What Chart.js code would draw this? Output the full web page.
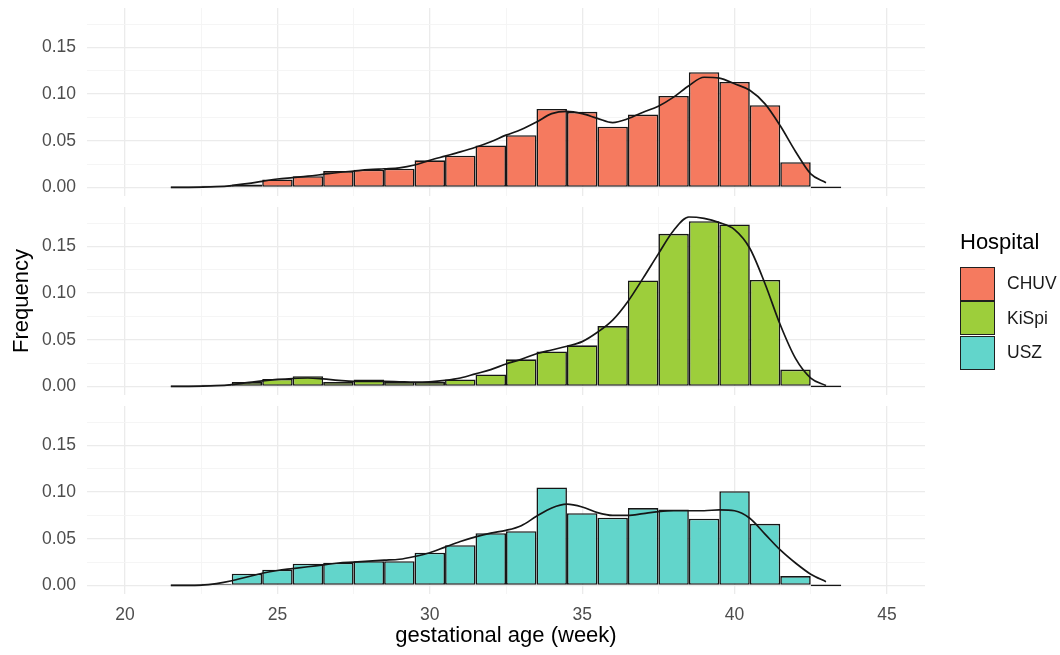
<!DOCTYPE html>
<html>
<head>
<meta charset="utf-8">
<title>Gestational age by hospital</title>
<script src="https://cdn.jsdelivr.net/npm/chart.js@4/dist/chart.umd.min.js"></script>
<style>
  html, body { margin: 0; padding: 0; background: #fff; }
  #wrap { position: relative; width: 1060px; height: 655px; overflow: hidden;
          font-family: "Liberation Sans", Arial, sans-serif; }
  #wrap canvas { position: absolute; left: 0; }
  .legend-title { position: absolute; left: 960px; top: 231px; font-size: 22px; line-height: 22px; color: #000; }
  .key { position: absolute; left: 960px; width: 35px; height: 34px; box-sizing: border-box; border: 1.6px solid #1f1f1f; }
  .lab { position: absolute; left: 1007px; font-size: 17.5px; line-height: 20px; color: #1a1a1a; }
</style>
</head>
<body>
<div id="wrap">
  <canvas id="pCHUV" width="1060" height="236" style="top:-16px"></canvas>
  <canvas id="pKiSpi" width="1060" height="236" style="top:183px"></canvas>
  <canvas id="pUSZ" width="1060" height="273" style="top:382px"></canvas>
  <div id="legend"></div>
</div>
<script>
// histogram bins (1-week wide, centred on whole weeks)
const weeks = [22, 23, 24, 25, 26, 27, 28, 29, 30, 31, 32, 33, 34, 35, 36, 37, 38, 39, 40, 41, 42, 43];
const chuvFreq  = [0, 0.0005, 0.003, 0.0085, 0.012, 0.0175, 0.019, 0.020, 0.029, 0.034, 0.045, 0.056, 0.084, 0.081, 0.065, 0.078, 0.098, 0.1235, 0.113, 0.088, 0.027, 0];
const kispiFreq = [0, 0.0005, 0.0046, 0.008, 0.011, 0.0046, 0.0075, 0.0046, 0.0046, 0.0075, 0.0128, 0.029, 0.0375, 0.044, 0.0646, 0.1135, 0.1635, 0.177, 0.1735, 0.114, 0.018, 0];
const uszFreq   = [0, 0.001, 0.0125, 0.0168, 0.0232, 0.0243, 0.026, 0.026, 0.035, 0.043, 0.056, 0.058, 0.105, 0.0774, 0.0725, 0.0828, 0.0814, 0.0714, 0.101, 0.066, 0.010, 0];

// kernel density curves, sampled every half week
const densWeeks = [21.5, 22, 22.5, 23, 23.5, 24, 24.5, 25, 25.5, 26, 26.5, 27, 27.5, 28, 28.5, 29, 29.5, 30, 30.5, 31, 31.5, 32,
                   32.5, 33, 33.5, 34, 34.5, 35, 35.5, 36, 36.5, 37, 37.5, 38, 38.5, 39, 39.5, 40, 40.5, 41, 41.5, 42, 42.5, 43];
const chuvDens  = [0, 0.0001, 0.0003, 0.0008, 0.002, 0.004, 0.0065, 0.009, 0.0105, 0.012, 0.014, 0.016, 0.0175, 0.019, 0.020, 0.021, 0.024, 0.029, 0.0335, 0.038, 0.043, 0.049,
                   0.056, 0.062, 0.070, 0.079, 0.0815, 0.079, 0.074, 0.0695, 0.0735, 0.0805, 0.087, 0.0967, 0.109, 0.118, 0.117, 0.111, 0.104, 0.0895, 0.066, 0.0385, 0.0145, 0.005];
const kispiDens = [0, 0.0001, 0.0003, 0.0008, 0.002, 0.004, 0.006, 0.0075, 0.0085, 0.009, 0.008, 0.0065, 0.0055, 0.0055, 0.0055, 0.005, 0.0045, 0.005, 0.0065, 0.009, 0.0135, 0.018,
                   0.024, 0.029, 0.035, 0.039, 0.043, 0.048, 0.058, 0.071, 0.091, 0.116, 0.142, 0.167, 0.1815, 0.180, 0.1755, 0.168, 0.148, 0.110, 0.066, 0.030, 0.009, 0.001];
const uszDens   = [0, 0, 0.0003, 0.002, 0.005, 0.009, 0.013, 0.016, 0.018, 0.020, 0.022, 0.024, 0.025, 0.026, 0.027, 0.028, 0.031, 0.035, 0.041, 0.047, 0.052, 0.056,
                   0.059, 0.064, 0.074, 0.083, 0.087, 0.084, 0.078, 0.075, 0.075, 0.077, 0.079, 0.080, 0.080, 0.080, 0.081, 0.080, 0.072, 0.055, 0.038, 0.024, 0.012, 0.004];

// axis ticks
const xTickWeeks  = [20, 25, 30, 35, 40, 45];
const xMinorWeeks = [22.5, 27.5, 32.5, 37.5, 42.5];
const yTickValues = [0, 0.05, 0.10, 0.15];
const yTickLabels = ['0.00', '0.05', '0.10', '0.15'];
const yMinorValues = [0.025, 0.075, 0.125, 0.175];

const hospitals = ['CHUV', 'KiSpi', 'USZ'];
const hospitalColors = ['#F57A5F', '#9DCE3B', '#62D5CB'];

const X_MIN = 18.75, X_MAX = 46.25;
const Y_MIN = -0.0092, Y_MAX = 0.1922;
const GRID_MAJOR = '#EBEBEB';
const GRID_MINOR = '#F4F4F4';
const INK = '#161616';
const FONT = '"Liberation Sans", Arial, sans-serif';
const PAD = 24;

const near = (list, v) => list.findIndex(t => Math.abs(t - v) < 1e-9);

function buildPanel(id, freq, dens, color, opt) {
  return new Chart(document.getElementById(id), {
    type: 'bar',
    data: {
      datasets: [
        {
          type: 'line',
          data: densWeeks.map((w, i) => ({ x: w, y: dens[i] })),
          borderColor: INK,
          borderWidth: 1.7,
          pointRadius: 0,
          cubicInterpolationMode: 'monotone',
          fill: false,
          order: 0
        },
        {
          type: 'bar',
          data: weeks.map((w, i) => ({ x: w, y: freq[i] })),
          backgroundColor: color,
          borderColor: INK,
          borderWidth: 1.6,
          borderSkipped: false,
          inflateAmount: 0,
          barPercentage: 1,
          categoryPercentage: 1,
          minBarLength: 1.6,
          order: 1
        }
      ]
    },
    options: {
      responsive: false,
      animation: false,
      devicePixelRatio: 1,
      events: [],
      layout: { padding: { top: PAD, bottom: opt.bottomPad, left: 0, right: 135 } },
      plugins: { legend: { display: false }, tooltip: { enabled: false } },
      scales: {
        x: {
          type: 'linear',
          min: X_MIN,
          max: X_MAX,
          offset: false,
          afterBuildTicks: ax => {
            ax.ticks = xTickWeeks.concat(xMinorWeeks).sort((a, b) => a - b).map(v => ({ value: v }));
          },
          afterFit: ax => { ax.height = opt.xHeight; },
          grid: {
            offset: false,
            drawTicks: false,
            color: c => near(xTickWeeks, c.tick.value) >= 0 ? GRID_MAJOR : GRID_MINOR,
            lineWidth: c => near(xTickWeeks, c.tick.value) >= 0 ? 1.3 : 0.9
          },
          border: { display: false },
          ticks: {
            display: opt.showX,
            padding: 11,
            autoSkip: false,
            maxRotation: 0,
            color: '#4D4D4D',
            font: { family: FONT, size: 17.5 },
            callback: v => { const i = near(xTickWeeks, v); return i >= 0 ? String(xTickWeeks[i]) : ''; }
          },
          title: {
            display: opt.showX,
            text: 'gestational age (week)',
            color: '#000',
            font: { family: FONT, size: 22 },
            padding: { top: 0, bottom: 6 }
          }
        },
        y: {
          min: Y_MIN,
          max: Y_MAX,
          afterBuildTicks: ax => {
            ax.ticks = yTickValues.concat(yMinorValues).sort((a, b) => a - b).map(v => ({ value: v }));
          },
          afterFit: ax => { ax.width = 87; },
          grid: {
            drawTicks: false,
            color: c => near(yTickValues, c.tick.value) >= 0 ? GRID_MAJOR : GRID_MINOR,
            lineWidth: c => near(yTickValues, c.tick.value) >= 0 ? 1.3 : 0.9
          },
          border: { display: false },
          ticks: {
            padding: 11,
            autoSkip: false,
            color: '#4D4D4D',
            font: { family: FONT, size: 17.5 },
            callback: v => { const i = near(yTickValues, v); return i >= 0 ? yTickLabels[i] : ''; }
          },
          title: {
            display: opt.showY,
            text: 'Frequency',
            color: '#000',
            font: { family: FONT, size: 22 },
            padding: { top: 9, bottom: 0 }
          }
        }
      }
    }
  });
}

buildPanel('pCHUV',  chuvFreq,  chuvDens,  hospitalColors[0], { showX: false, showY: false, xHeight: 0,  bottomPad: PAD });
buildPanel('pKiSpi', kispiFreq, kispiDens, hospitalColors[1], { showX: false, showY: true,  xHeight: 0,  bottomPad: PAD });
buildPanel('pUSZ',   uszFreq,   uszDens,   hospitalColors[2], { showX: true,  showY: false, xHeight: 61, bottomPad: 0 });

// legend
const legend = document.getElementById('legend');
const title = document.createElement('div');
title.className = 'legend-title';
title.textContent = 'Hospital';
legend.appendChild(title);
const keyTops = [266.5, 301, 335.5];
hospitals.forEach((h, i) => {
  const k = document.createElement('div');
  k.className = 'key';
  k.style.top = keyTops[i] + 'px';
  k.style.background = hospitalColors[i];
  legend.appendChild(k);
  const l = document.createElement('div');
  l.className = 'lab';
  l.style.top = (keyTops[i] + 6.5) + 'px';
  l.textContent = h;
  legend.appendChild(l);
});
</script>
</body>
</html>
